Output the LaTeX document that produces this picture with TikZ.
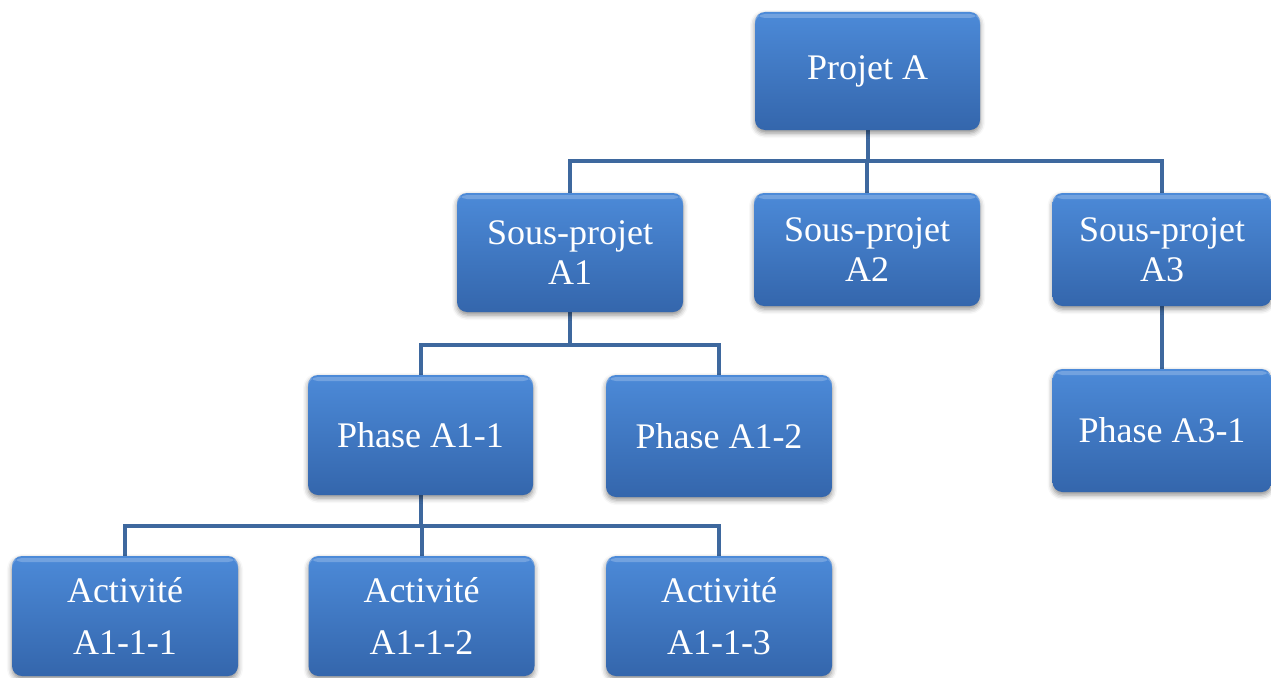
\documentclass[tikz,border=0pt]{standalone}
\usepackage{fontspec}
\setmainfont{Liberation Serif}
\usetikzlibrary{shadows.blur,backgrounds}
\definecolor{boxtop}{RGB}{76,138,216}
\definecolor{boxbot}{RGB}{52,102,172}
\definecolor{linkblue}{RGB}{62,104,158}
\tikzset{
  wbsbox/.style={rectangle, rounded corners=10pt, inner sep=0pt,
    minimum width=226pt, minimum height=118pt,
    top color=boxtop, bottom color=boxbot, draw=none,
    text=white, align=center,
    font=\fontsize{36}{40}\selectfont,
    blur shadow={shadow xshift=0pt, shadow yshift=-3pt,
      shadow blur radius=5pt, shadow opacity=45},
    path picture={\fill[white,opacity=0.22]
      ([yshift=-2pt]path picture bounding box.north west) rectangle
      ([yshift=-6pt]path picture bounding box.north east);}},
  link/.style={draw=linkblue, line width=4pt}
}
\begin{document}
\begin{tikzpicture}[x=1pt,y=1pt]
\useasboundingbox (0,0) rectangle (1271,-677);

% level 0
\node[wbsbox, minimum width=225pt] (pa) at (867.5,-71) {Projet A};
% level 1
\node[wbsbox, minimum height=119pt] (sa1) at (570,-252.5) {Sous-projet\\A1};
\node[wbsbox, minimum height=113pt] (sa2) at (867,-249.5) {Sous-projet\\A2};
\node[wbsbox, minimum width=219pt, minimum height=113pt] (sa3) at (1162,-249.5) {Sous-projet\\A3};
% level 2
\node[wbsbox, minimum width=225pt, minimum height=120pt] (ph11) at (420.5,-435) {Phase A1-1};
\node[wbsbox, minimum height=122pt] (ph12) at (719,-436) {Phase A1-2};
\node[wbsbox, minimum width=219pt, minimum height=123pt] (ph31) at (1162,-430.5) {Phase A3-1};
% level 3
\node[wbsbox, minimum height=120pt, font=\fontsize{36}{52}\selectfont] (ac1) at (125,-616) {Activité\\A1-1-1};
\node[wbsbox, minimum height=120pt, font=\fontsize{36}{52}\selectfont] (ac2) at (421.5,-616) {Activité\\A1-1-2};
\node[wbsbox, minimum height=120pt, font=\fontsize{36}{52}\selectfont] (ac3) at (719,-616) {Activité\\A1-1-3};

% bus levels of the connectors
\coordinate (bus0) at (0,-161);
\coordinate (bus1) at (0,-345);
\coordinate (bus2) at (0,-526);

\begin{scope}[on background layer]
  \draw[link] (pa.south) -- (pa.south |- bus0);
  \draw[link] (sa1.north) -- (sa1.north |- bus0) -- (sa3.north |- bus0) -- (sa3.north);
  \draw[link] (sa2.north) -- (sa2.north |- bus0);

  \draw[link] (sa1.south) -- (sa1.south |- bus1);
  \draw[link] (ph11.north) -- (ph11.north |- bus1) -- (ph12.north |- bus1) -- (ph12.north);

  \draw[link] (sa3.south) -- (ph31.north);

  \draw[link] (ph11.south) -- (ph11.south |- bus2);
  \draw[link] (ac1.north) -- (ac1.north |- bus2) -- (ac3.north |- bus2) -- (ac3.north);
  \draw[link] (ac2.north) -- (ac2.north |- bus2);
\end{scope}
\end{tikzpicture}
\end{document}
